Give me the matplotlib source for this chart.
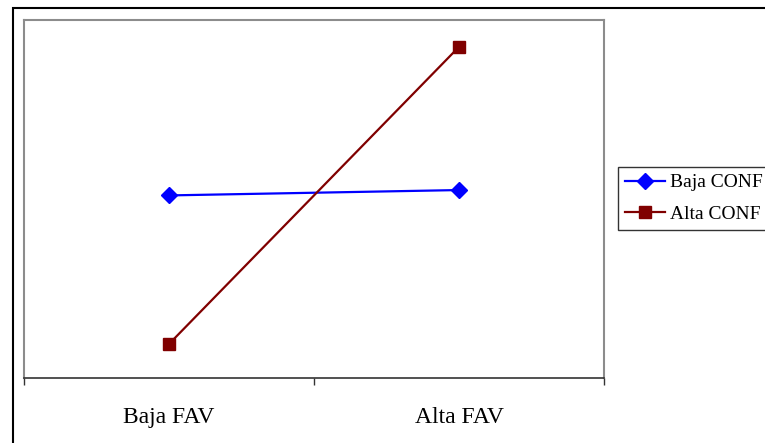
import matplotlib.pyplot as plt
from matplotlib.patches import Rectangle

# Interaction plot data
categories = ["Baja FAV", "Alta FAV"]
baja_conf = [3.02, 3.05]
alta_conf = [2.19, 3.85]

plt.rcParams['font.family'] = ['Liberation Serif', 'DejaVu Serif']

fig = plt.figure(figsize=(7.65, 4.43), dpi=100)
ax = fig.add_axes([24 / 765, 1 - 378 / 443, 580 / 765, 358 / 443])

x = list(range(len(categories)))
ax.plot(x, baja_conf, color="#0000FF", linewidth=1.6, marker="D", markersize=8,
        label="Baja CONF")
ax.plot(x, alta_conf, color="#800000", linewidth=1.6, marker="s", markersize=8,
        label="Alta CONF")

ax.set_xlim(-0.5, 1.5)
ax.set_ylim(2.0, 4.0)
ax.set_yticks([])

# tick marks between categories, labels centred on categories
ax.set_xticks([-0.5, 0.5, 1.5])
ax.set_xticklabels([])
ax.set_xticks(x, minor=True)
ax.set_xticklabels(categories, minor=True, fontsize=17)
ax.tick_params(axis="x", which="major", direction="out", length=5, width=1, color="#333333")
ax.tick_params(axis="x", which="minor", length=0, pad=21)

for side in ["left", "right", "top"]:
    ax.spines[side].set_color("#8c8c8c")
    ax.spines[side].set_linewidth(1.5)
ax.spines["bottom"].set_color("#333333")
ax.spines["bottom"].set_linewidth(1.2)

leg = fig.legend(loc="upper left", bbox_to_anchor=(618 / 765, 1 - 167 / 443),
                 fontsize=14, frameon=True, fancybox=False, handlelength=2.05,
                 handletextpad=0.25, borderpad=0.35, labelspacing=0.72, borderaxespad=0)
leg.get_frame().set_edgecolor("black")
leg.get_frame().set_linewidth(1.0)

# outer chart border
fig.patches.append(Rectangle((12.5 / 765, -0.1), 1.0, 1 - 7.5 / 443 + 0.1,
                             transform=fig.transFigure, fill=False,
                             edgecolor="black", linewidth=1.5))

fig.savefig("out.png", dpi=100)
